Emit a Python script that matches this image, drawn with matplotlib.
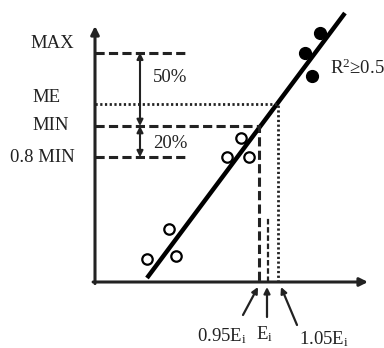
import matplotlib.pyplot as plt
import numpy as np

plt.rcParams['font.family'] = ['Liberation Serif', 'DejaVu Serif']
plt.rcParams['mathtext.fontset'] = 'custom'
plt.rcParams['mathtext.rm'] = 'Liberation Serif'
plt.rcParams['mathtext.it'] = 'Liberation Serif:italic'

# levels on the y axis (in units of MIN)
level_names = ["MAX", "ME", "MIN", "0.8 MIN"]
level_values = [1.47, 1.14, 1.0, 0.8]

# energies on the x axis (in units of E_i)
e_names = ["0.95E$_\\mathrm{i}$", "E$_\\mathrm{i}$", "1.05E$_\\mathrm{i}$"]
e_values = [0.95, 1.0, 1.05]

# calibration points
open_x = [0.363, 0.479, 0.516, 0.858, 0.784, 0.900]
open_y = [0.147, 0.340, 0.167, 0.923, 0.800, 0.800]
filled_x = [1.274, 1.195, 1.232]
filled_y = [1.596, 1.468, 1.320]

# fitted line y = a + b*x
fit_a = -0.566
fit_b = 1.63
fit_range = [0.363, 1.405]


def px2x(px):
	return 1 + (px - 268) / 190.0

def px2y(py):
	return (282 - py) / 156.0


fig = plt.figure(figsize=[3.84, 3.48], dpi=100)
ax = fig.add_axes([0, 0, 1, 1])
ax.set_xlim(px2x(0), px2x(384))
ax.set_ylim(px2y(348), px2y(0))
ax.axis('off')

x0 = px2x(95)
fs = 13.5

# axes with arrows
ax.annotate("", xy=(x0, px2y(26)), xytext=(x0, -0.01),
	arrowprops=dict(arrowstyle="-|>", lw=2.2, color="#222222", mutation_scale=12, shrinkA=0, shrinkB=0))
ax.annotate("", xy=(px2x(368), 0), xytext=(x0 - 0.01, 0),
	arrowprops=dict(arrowstyle="-|>", lw=2.2, color="#222222", mutation_scale=12, shrinkA=0, shrinkB=0))

# fitted line
fx = np.array(fit_range)
ax.plot(fx, fit_a + fit_b * fx, color="black", lw=3.2, solid_capstyle="butt")

# points
ax.plot(open_x, open_y, "o", ms=7.5, mfc="white", mec="black", mew=1.6)
ax.plot(filled_x, filled_y, "o", ms=8.5, mfc="black", mec="black")

# level lines
dash = (3, 1.4)
dot = (0.8, 0.9)
x_short = px2x(186)
ax.plot([x0, x_short], [level_values[0]] * 2, color="#222222", lw=2.2, dashes=dash)
ax.plot([x0, x_short], [level_values[3]] * 2, color="#222222", lw=2.2, dashes=dash)
ax.plot([x0, e_values[0], e_values[0]], [level_values[2], level_values[2], 0], color="#222222", lw=2.2, dashes=dash)
ax.plot([x0, e_values[2], e_values[2]], [level_values[1], level_values[1], 0], color="#222222", lw=2.0, dashes=dot)
ax.plot([e_values[1], e_values[1]], [0, px2y(217)], color="#222222", lw=1.6, dashes=(2.5, 1.2))

# level labels
label_left = [30, 32, 32, 10]
label_y = [44, 98, 126, 157]
for name, lx, ly in zip(level_names, label_left, label_y):
	ax.text(px2x(lx), px2y(ly), name, ha="left", va="center", fontsize=fs, color="#222222")

# percentage arrows
xa = px2x(140)
ax.annotate("", xy=(xa, level_values[2]), xytext=(xa, level_values[0]),
	arrowprops=dict(arrowstyle="<|-|>", lw=1.5, color="#222222", mutation_scale=9, shrinkA=0, shrinkB=0))
ax.annotate("", xy=(xa, level_values[3]), xytext=(xa, level_values[2]),
	arrowprops=dict(arrowstyle="<|-|>", lw=1.5, color="#222222", mutation_scale=9, shrinkA=0, shrinkB=0))
ax.text(px2x(153), px2y(77), "50%", ha="left", va="center", fontsize=fs, color="#222222")
ax.text(px2x(153), px2y(143), "20%", ha="left", va="center", fontsize=fs, color="#222222")

ax.text(px2x(330), px2y(68), "R$^2$\u22650.5", ha="left", va="center", fontsize=fs, color="#222222")

# energy labels with arrows
txt_pos = [(222, 336), (265, 334), (324, 339)]
arr_from = [(243, 315), (267, 317), (297, 325)]
arr_to = [(258, 287), (267, 287), (281, 287)]
for name, (tx, ty), (ax0, ay0), (ax1, ay1) in zip(e_names, txt_pos, arr_from, arr_to):
	ax.text(px2x(tx), px2y(ty), name, ha="center", va="center", fontsize=fs, color="#222222")
	ax.annotate("", xy=(px2x(ax1), px2y(ay1)), xytext=(px2x(ax0), px2y(ay0)),
		arrowprops=dict(arrowstyle="-|>", lw=1.6, color="#222222", mutation_scale=9, shrinkA=0, shrinkB=0))

plt.savefig("out.png", dpi=100)
